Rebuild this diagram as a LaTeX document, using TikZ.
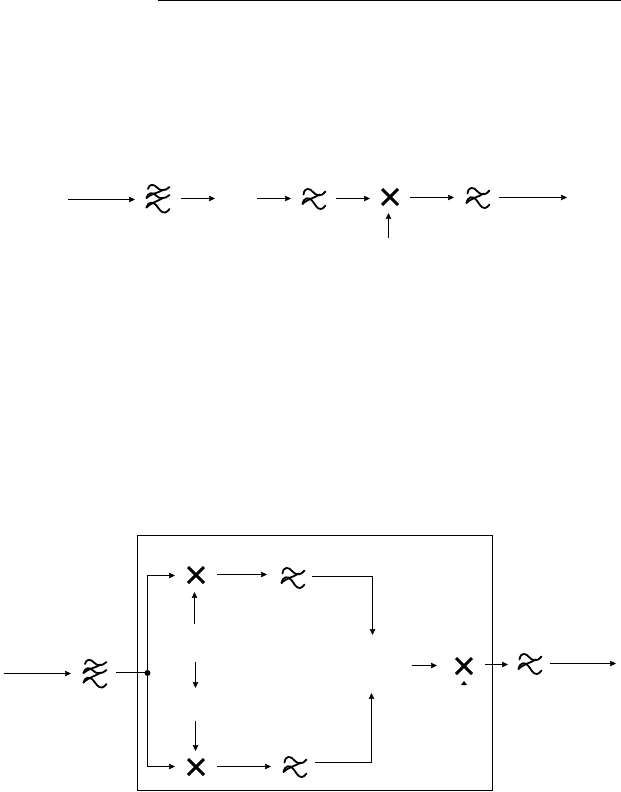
\documentclass[tikz,border=0pt]{standalone}
\usetikzlibrary{arrows.meta}
\tikzset{
  sym/.style={inner sep=0pt,minimum size=2bp,draw=none},
  wire/.style={line width=1bp,draw=black},
  conn/.style={wire,-{Stealth[length=6bp,width=5.5bp,inset=0.6bp]}},
  wavy/.style={line width=1.8bp,line cap=round,draw=black},
  mixer/.pic={\draw[line width=3bp] (-8,-8) -- (8,8) (-8,8) -- (8,-8);},
  filtertwo/.pic={
    \draw[wavy] (-10.5,-3.5) .. controls (-9.5,-11) and (-4,-10) .. (-1,-6) .. controls (2,-2) and (8,-1) .. (11.5,-6.5);
    \draw[wavy] (-11.5,6) .. controls (-10,-1) and (-5,-1) .. (-2,2.5) .. controls (1,6) and (3,11.5) .. (7,11) .. controls (9,10.5) and (10,9.5) .. (11.5,7.5);
    \draw[wavy] (5.5,-3.5) .. controls (1,0) and (-6,0.5) .. (-11.5,6);
  },
  filterthree/.pic={
    \draw[wavy] (-10,-10) .. controls (-9,-15.5) and (-4,-15) .. (-1,-11.5) .. controls (2,-8) and (7,-7.5) .. (11.5,-12);
    \draw[wavy] (-11.5,-1) .. controls (-10,-7) and (-5,-7) .. (-2,-3.5) .. controls (1,0) and (7,0.5) .. (11.5,-4);
    \draw[wavy] (-11.5,8.5) .. controls (-10,2.5) and (-5,2.5) .. (-2,6) .. controls (1,9.5) and (3,14) .. (7,13.5) .. controls (9,13) and (10,12) .. (11.5,10);
    \draw[wavy] (5.5,-9.5) .. controls (1,-6) and (-6,-6) .. (-11.5,-1);
    \draw[wavy] (5.5,-1.5) .. controls (1,2) and (-6,3) .. (-11.5,8.5);
  }
}
\begin{document}
\begin{tikzpicture}[x=1bp,y=-1bp]
\useasboundingbox (0,0) rectangle (621,792);
\fill[white] (0,0) rectangle (621,792);
% header rule
\coordinate (ruleL) at (158,0.5);
\coordinate (ruleR) at (621,0.5);
\draw[line width=1bp] (ruleL) -- (ruleR);
% top chain
\coordinate (inA) at (68,199.5);
\coordinate (tipA) at (135,199.5);
\node[sym] (fa) at (158,199) {};
\pic at (fa) {filterthree};
\coordinate (fa1) at (181,198.5);
\coordinate (fa2) at (215,198.5);
\coordinate (ga1) at (257,198.5);
\coordinate (ga2) at (291,198.5);
\node[sym] (fb) at (314,198) {};
\pic at (fb) {filtertwo};
\coordinate (fb1) at (336,198.5);
\coordinate (fb2) at (370,198.5);
\node[sym] (ma) at (390,197) {};
\pic at (ma) {mixer};
\coordinate (ma1) at (410,197.5);
\coordinate (ma2) at (454,197.5);
\node[sym] (fc) at (478,197) {};
\pic at (fc) {filtertwo};
\coordinate (fc1) at (499,197.5);
\coordinate (fc2) at (567,197.5);
\coordinate (lo1) at (388.5,238);
\coordinate (lo2) at (388.5,213);
\draw[conn] (inA) -- (tipA);
\draw[conn] (fa1) -- (fa2);
\draw[conn] (ga1) -- (ga2);
\draw[conn] (fb1) -- (fb2);
\draw[conn] (ma1) -- (ma2);
\draw[conn] (fc1) -- (fc2);
\draw[conn] (lo1) -- (lo2);
% bottom frame
\node[draw,line width=1bp,minimum width=355bp,minimum height=255bp,inner sep=0pt] (frame) at (315,663) {};
% input
\coordinate (inB) at (4,673.5);
\coordinate (tipB) at (71,673.5);
\node[sym] (fd) at (95,674) {};
\pic at (fd) {filterthree};
\coordinate (fd1) at (116,672.5);
\node[circle,fill=black,inner sep=0pt,minimum size=6bp] (junction) at (147.5,673) {};
\coordinate (upc) at (147.5,575.5);
\coordinate (dnc) at (147.5,766.5);
\coordinate (upt) at (175,575.5);
\coordinate (dnt) at (175,766.5);
\draw[conn] (inB) -- (tipB);
\draw[wire] (fd1) -- (fd1 -| junction);
\draw[conn] (junction.center) -- (upc) -- (upt);
\draw[conn] (junction.center) -- (dnc) -- (dnt);
% mixers
\node[sym] (mu) at (196,575) {};
\pic at (mu) {mixer};
\node[sym] (ml) at (196,767) {};
\pic at (ml) {mixer};
\coordinate (mu1) at (217,574.5);
\coordinate (mu2) at (267,574.5);
\coordinate (ml1) at (217,766.5);
\coordinate (ml2) at (271,766.5);
\draw[conn] (mu1) -- (mu2);
\draw[conn] (ml1) -- (ml2);
% filters
\node[sym] (fu) at (293,577) {};
\pic at (fu) {filtertwo};
\node[sym] (fl) at (295,766) {};
\pic at (fl) {filtertwo};
\coordinate (fu1) at (312,576.5);
\coordinate (fuc) at (372.5,576.5);
\coordinate (fu2) at (372.5,635);
\coordinate (fl1) at (315,762.5);
\coordinate (flc) at (371.5,762.5);
\coordinate (fl2) at (371.5,693);
\draw[conn] (fu1) -- (fuc) -- (fu2);
\draw[conn] (fl1) -- (flc) -- (fl2);
% vertical LO arrows
\coordinate (v1a) at (194.5,624);
\coordinate (v1b) at (194.5,592);
\coordinate (v2a) at (195.5,662);
\coordinate (v2b) at (195.5,688);
\coordinate (v3a) at (195.5,721);
\coordinate (v3b) at (195.5,751);
\draw[conn] (v1a) -- (v1b);
\draw[conn] (v2a) -- (v2b);
\draw[conn] (v3a) -- (v3b);
% output
\coordinate (sm1) at (412,665.5);
\coordinate (sm2) at (437,665.5);
\draw[conn] (sm1) -- (sm2);
\node[sym] (mo) at (464,666) {};
\pic at (mo) {mixer};
\fill (461,685) -- (467,685) -- (464,681) -- cycle;
\coordinate (mo1) at (485,664.5);
\coordinate (mo2) at (508,664.5);
\draw[conn] (mo1) -- (mo2);
\node[sym] (fo) at (530,663) {};
\pic at (fo) {filtertwo};
\coordinate (fo1) at (550,663.5);
\coordinate (fo2) at (616,663.5);
\draw[conn] (fo1) -- (fo2);
\end{tikzpicture}
\end{document}
